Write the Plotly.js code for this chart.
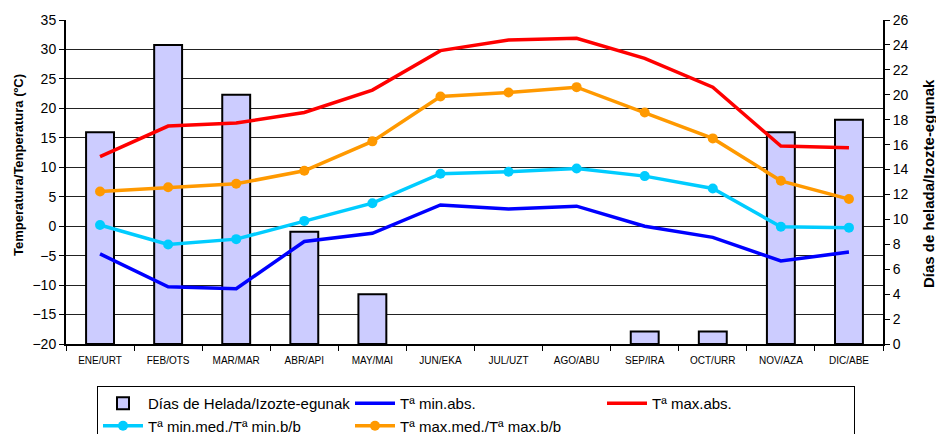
<!DOCTYPE html>
<html>
<head>
<meta charset="utf-8">
<script src="https://cdn.plot.ly/plotly-3.0.1.min.js"></script>
<style>html,body{margin:0;padding:0;background:#fff;}#chart{width:936px;height:434px;}</style>
</head>
<body>
<div id="chart"></div>
<script>
const months = ["ENE/URT","FEB/OTS","MAR/MAR","ABR/API","MAY/MAI","JUN/EKA","JUL/UZT","AGO/ABU","SEP/IRA","OCT/URR","NOV/AZA","DIC/ABE"];
const frostDays = [17, 24, 20, 9, 4, 0, 0, 0, 1, 1, 17, 18];
const tMinAbs = [-4.7, -10.3, -10.6, -2.6, -1.2, 3.6, 2.9, 3.4, 0.0, -1.9, -5.9, -4.4];
const tMaxAbs = [11.8, 17.0, 17.5, 19.3, 23.1, 29.8, 31.6, 31.9, 28.5, 23.6, 13.6, 13.3];
const tMinMed = [0.2, -3.1, -2.2, 0.9, 3.9, 8.9, 9.25, 9.8, 8.5, 6.4, -0.1, -0.25];
const tMaxMed = [5.9, 6.6, 7.2, 9.4, 14.4, 22.0, 22.7, 23.6, 19.3, 14.9, 7.7, 4.6];

const names = {
  frost: "Días de Helada/Izozte-egunak",
  minAbs: "Tª min.abs.",
  maxAbs: "Tª max.abs.",
  minMed: "Tª min.med./Tª min.b/b",
  maxMed: "Tª max.med./Tª max.b/b"
};
const leftTitle = "Temperatura/Tenperatura (ºC)";
const rightTitle = "Días de helada/Izozte-egunak";

const traces = [
  {type:"bar", x:months, y:frostDays.map(v => v === 0 ? null : v), name:names.frost, yaxis:"y", width:0.41,
   marker:{color:"#ccccff", line:{color:"#000", width:2}}},
  {type:"scatter", mode:"lines", x:months, y:tMinAbs, name:names.minAbs, yaxis:"y2",
   line:{color:"#0000ff", width:3.5}},
  {type:"scatter", mode:"lines", x:months, y:tMaxAbs, name:names.maxAbs, yaxis:"y2",
   line:{color:"#ff0000", width:3.5}},
  {type:"scatter", mode:"lines+markers", x:months, y:tMinMed, name:names.minMed, yaxis:"y2",
   line:{color:"#00ccff", width:3.5}, marker:{color:"#00ccff", size:10}},
  {type:"scatter", mode:"lines+markers", x:months, y:tMaxMed, name:names.maxMed, yaxis:"y2",
   line:{color:"#ff9900", width:3.5}, marker:{color:"#ff9900", size:10}}
];

const L = 66, R = 53, T = 20, B = 90, W = 936, H = 434;
const pw = W - L - R, ph = H - T - B;

const layout = {
  width:W, height:H,
  margin:{l:L, r:R, t:T, b:B},
  paper_bgcolor:"#fff", plot_bgcolor:"#fff",
  font:{family:"Liberation Sans, Arial, sans-serif", color:"#000"},
  showlegend:true,
  xaxis:{type:"category", range:[-0.5, 11.5], showline:true, linecolor:"#000", linewidth:2, ticks:"outside",
    tickson:"boundaries", ticklen:5, tickcolor:"#000", tickfont:{size:10}, showgrid:false,
    zeroline:false, fixedrange:true, automargin:false, ticklabelstandoff:6},
  yaxis:{side:"right", range:[0,26], dtick:2, showgrid:false, zeroline:false, automargin:false,
    showline:true, linecolor:"#000", linewidth:2, ticks:"outside", ticklen:5, tickcolor:"#000",
    tickfont:{size:14}},
  yaxis2:{side:"left", overlaying:"y", range:[-20,35], dtick:5, showgrid:true, gridcolor:"#222",
    gridwidth:1, zeroline:false, showline:true, linecolor:"#000", linewidth:2, ticks:"outside",
    ticklen:5, tickcolor:"#000", tickfont:{size:14}, automargin:false},
  annotations:[
    {text:leftTitle, textangle:-90, showarrow:false, xref:"paper", yref:"paper",
     x:(18 - L)/pw, y:(H - B - 165)/ph, xanchor:"center", yanchor:"middle",
     font:{size:13, weight:"bold"}},
    {text:rightTitle, textangle:-90, showarrow:false, xref:"paper", yref:"paper",
     x:(928 - L)/pw, y:(H - B - 184)/ph, xanchor:"center", yanchor:"middle",
     font:{size:15, weight:"bold"}}
  ],
  legend:{orientation:"h", x:97/W, xanchor:"left", xref:"container", y:1-386/H, yanchor:"top", yref:"container",
    bordercolor:"#000", borderwidth:1, bgcolor:"#fff", font:{size:15},
    entrywidth:197, entrywidthmode:"pixels", itemwidth:40, tracegroupgap:0,
    traceorder:"normal"}
};

Plotly.newPlot("chart", traces, layout, {displayModeBar:false, staticPlot:true});
</script>
</body>
</html>
